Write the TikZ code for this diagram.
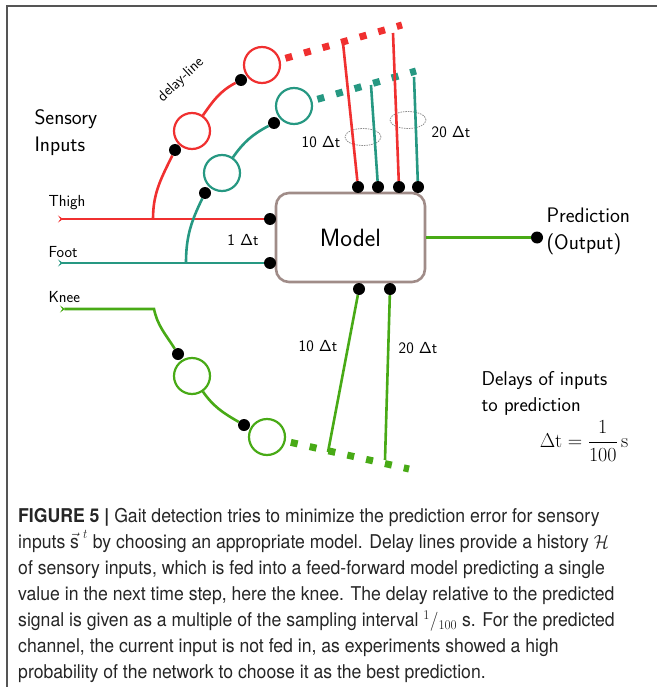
\RequirePackage{fix-cm}
\documentclass[tikz,border=0pt]{standalone}
\usepackage{amsmath}
\usepackage[no-math]{fontspec}
\usepackage{tikz}
\usetikzlibrary{arrows.meta, shapes.geometric}
\newfontfamily\capfont{TeX Gyre Heros}
\definecolor{thighred}{RGB}{240,48,48}
\definecolor{footteal}{RGB}{38,152,130}
\definecolor{kneegreen}{RGB}{72,170,22}
\definecolor{modelbrown}{RGB}{160,140,136}
\definecolor{framegray}{RGB}{85,85,85}
\newcommand{\dlt}{$\mathsf{\Delta}$t}

\begin{document}
\begin{tikzpicture}[
    x=1pt, y=-1pt,
    >=Stealth,
    font=\sffamily,
    wire/.style={line width=2.6pt},
    cell/.style={circle, draw, line width=2.2pt, minimum size=36pt, inner sep=0pt},
    tap/.style={circle, fill=black, minimum size=12pt, inner sep=0pt},
    sqdots/.style={line width=7pt, dash pattern=on 7pt off 12.3pt, dash phase=14pt},
    intail/.style={arrows={Stealth[reversed, length=5pt, width=7pt, inset=2.5pt]-}},
    bundle/.style={ellipse, draw=black!45, dash pattern=on 1.5pt off 1pt, line width=0.8pt, minimum width=36pt, minimum height=17pt, inner sep=0pt},
    model/.style={rectangle, rounded corners=13pt, draw=modelbrown, line width=2.6pt, minimum width=149pt, minimum height=89pt, font=\sffamily\fontsize{25}{30}\selectfont},
    lab/.style={font=\sffamily\fontsize{16}{18}\selectfont},
    big/.style={font=\sffamily\fontsize{21}{27}\selectfont, align=left}
]
\useasboundingbox (0,0) rectangle (657,687);
\draw[framegray, line width=1.5pt] (7,687) -- (7,6) -- (657,6);

\node[big, anchor=west] (sensory) at (31,133) {Sensory\\Inputs};
\node[lab, anchor=west] (thighlab) at (45,203) {Thigh};
\node[lab, anchor=west] (footlab) at (45,252) {Foot};
\node[lab, anchor=west] (kneelab) at (45,297) {Knee};
\node[lab, font=\sffamily\fontsize{15}{17}\selectfont, rotate=43] (delaylab) at (181,80) {delay-line};

\node[model] (model) at (350.5,237.5) {Model};

\coordinate (thighsrc) at (58,219);
\coordinate (thighfork) at (153,219);
\coordinate (footsrc) at (58,263);
\coordinate (footfork) at (186,263);
\coordinate (kneesrc) at (60,309);
\coordinate (kneebend) at (154,309);

\node[tap] (thighin) at (270,219) {};
\node[tap] (footin) at (270,263) {};
\node[tap] (top1) at (358,187) {};
\node[tap] (top2) at (378,187) {};
\node[tap] (top3) at (399,187) {};
\node[tap] (top4) at (418,187) {};
\node[tap] (bot1) at (359,289) {};
\node[tap] (bot2) at (390,289) {};
\node[tap] (outdot) at (537,237.5) {};

\node[tap] (thigha) at (175,150) {};
\node[cell, draw=thighred] (thighc1) at (192,131) {};
\node[tap] (thighb) at (241,80) {};
\node[cell, draw=thighred] (thighc2) at (262,65) {};
\coordinate (thighend) at (402,25);

\node[tap] (foota) at (205,193) {};
\node[cell, draw=footteal] (footc1) at (222,173) {};
\node[tap] (footb) at (274,123) {};
\node[cell, draw=footteal] (footc2) at (294,106) {};
\coordinate (footend) at (416,71);

\node[tap] (kneea) at (178,354) {};
\node[cell, draw=kneegreen] (kneec1) at (192,376) {};
\node[tap] (kneeb) at (244,425) {};
\node[cell, draw=kneegreen] (kneec2) at (267,437) {};
\coordinate (kneeend) at (409,469);

\coordinate (lag1) at (343,43);
\coordinate (lag2) at (371,85);
\coordinate (lag3) at (393,33);
\coordinate (lag4) at (414,77);
\coordinate (lagk1) at (328,452);
\coordinate (lagk2) at (385,460);

\node[bundle] (bundle10) at (363,137) {};
\node[bundle] (bundle20) at (408,120) {};

\node[lab] (lab10top) at (321,142) {10 \dlt};
\node[lab] (lab20top) at (451,132) {20 \dlt};
\node[lab] (lab1) at (243,240) {1 \dlt};
\node[lab] (lab10bot) at (318,346) {10 \dlt};
\node[lab] (lab20bot) at (418,348) {20 \dlt};

\node[big, anchor=west] (predict) at (543,231) {Prediction\\(Output)};
\node[font=\sffamily\fontsize{20}{26}\selectfont, align=left, anchor=west] (delays) at (478,393) {Delays of inputs\\to prediction};
\node[font=\fontsize{20}{24}\selectfont] (dtdef) at (584,441) {$\Delta\mathrm{t} = \dfrac{1}{100}\,\mathrm{s}$};

\draw[wire, thighred, intail] (thighsrc) -- (thighin);
\draw[wire, thighred] (thighfork) to[out=90, in=244] (thigha);
\draw[wire, thighred] (thighc1) to[out=55, in=208] (thighb);
\draw[sqdots, thighred] (thighc2) -- (thighend);

\draw[wire, footteal, intail] (footsrc) -- (footin);
\draw[wire, footteal] (footfork) to[out=90, in=244] (foota);
\draw[wire, footteal] (footc1) to[out=55, in=208] (footb);
\draw[sqdots, footteal] (footc2) -- (footend);

\draw[wire, kneegreen, intail] (kneesrc) -- (kneebend) to[out=-78, in=122] (kneea);
\draw[wire, kneegreen] (kneec1) to[out=-55, in=150] (kneeb);
\draw[sqdots, kneegreen] (kneec2) -- (kneeend);

\draw[wire, thighred] (top1) -- (lag1);
\draw[wire, footteal] (top2) -- (lag2);
\draw[wire, thighred] (top3) -- (lag3);
\draw[wire, footteal] (top4) -- (lag4);
\draw[wire, kneegreen] (bot1) -- (lagk1);
\draw[wire, kneegreen] (bot2) -- (lagk2);
\draw[wire, kneegreen] (model) -- (outdot);

\node[anchor=north west, inner sep=0pt, text=black!85] (caption) at (18,504) {\capfont\fontsize{19}{26}\selectfont\scalebox{0.928}[1]{\begin{tabular}{@{}l@{}}
\textbf{FIGURE 5 |} Gait detection tries to minimize the prediction error for sensory\\
inputs $\vec{\mbox{s}}^{\,\,t}$ by choosing an appropriate model. Delay lines provide a history $\mathcal{H}$\\
of sensory inputs, which is fed into a feed-forward model predicting a single\\
value in the next time step, here the knee. The delay relative to the predicted\\
signal is given as a multiple of the sampling interval $^{1}/_{100}$ s. For the predicted\\
channel, the current input is not fed in, as experiments showed a high\\
probability of the network to choose it as the best prediction.
\end{tabular}}};
\end{tikzpicture}
\end{document}
